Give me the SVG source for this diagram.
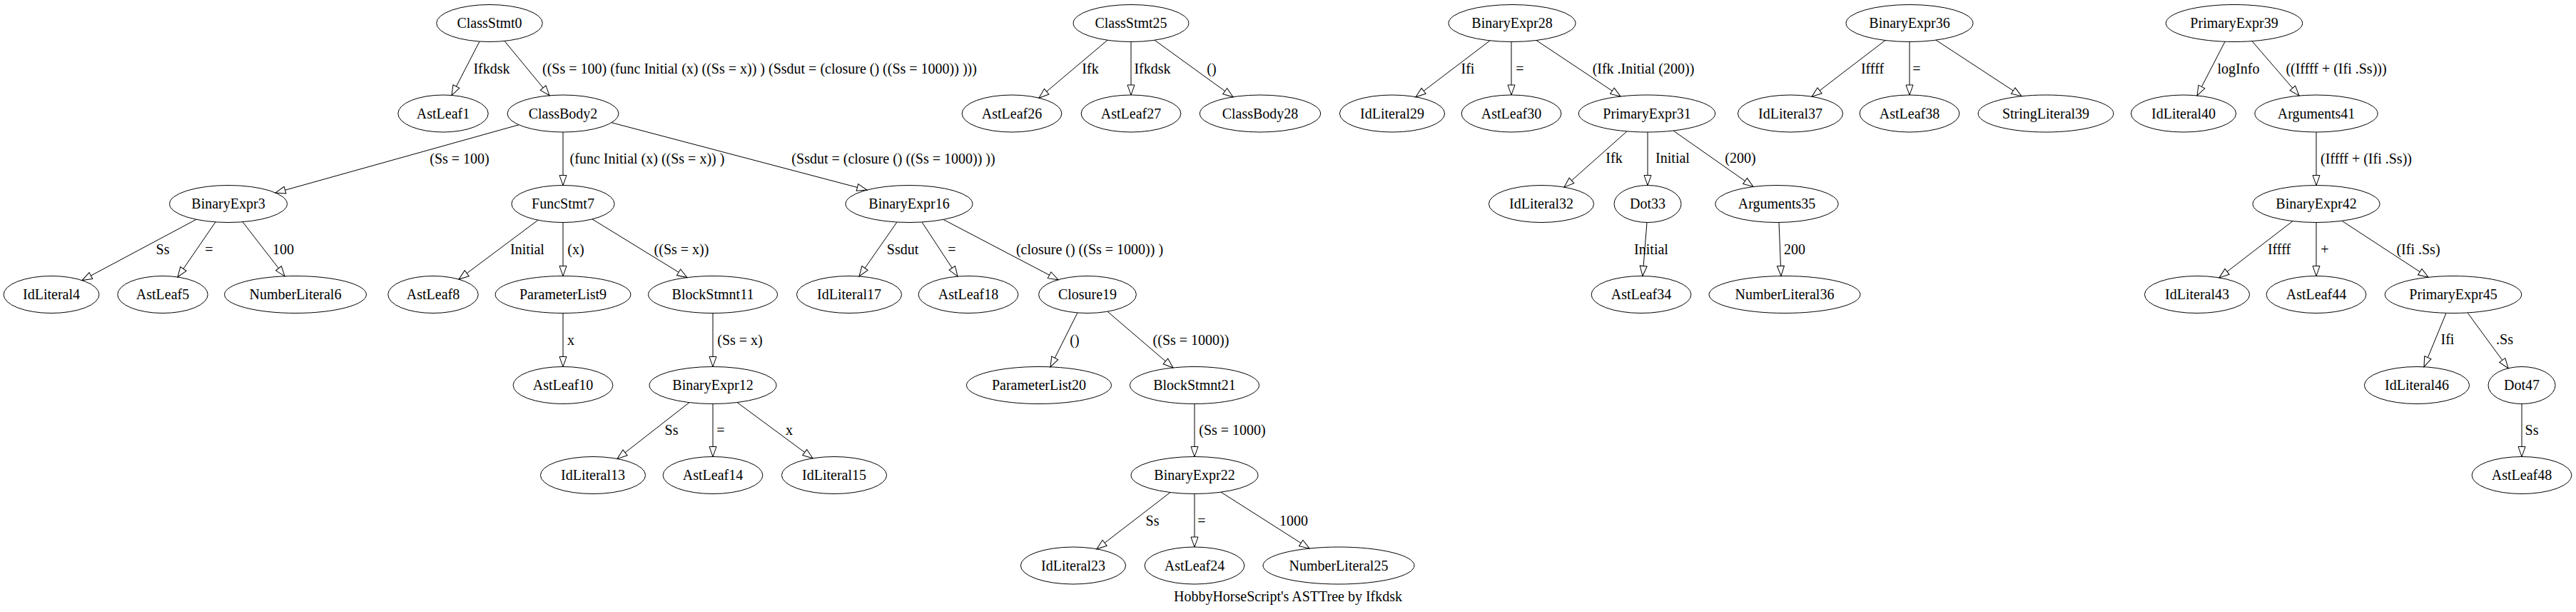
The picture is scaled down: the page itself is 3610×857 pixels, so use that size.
<svg xmlns="http://www.w3.org/2000/svg" width="3610" height="857" viewBox="0 0 3610 857">
<style>
.n ellipse{fill:none;stroke:#000;stroke-width:1}
text{font-family:"Liberation Serif","Times New Roman",serif;font-size:20px;text-anchor:middle;fill:#000}
.e line{stroke:#000;stroke-width:1;marker-end:url(#a)}
</style>
<defs>
<marker id="a" markerUnits="userSpaceOnUse" markerWidth="16" markerHeight="12" refX="14.5" refY="5.5" orient="auto" overflow="visible">
<path d="M0.5,0.5 L14.5,5.5 L0.5,10.5 Z" fill="#fff" stroke="#000" stroke-width="1"/>
</marker>
</defs>
<rect width="3610" height="857" fill="#fff"/>
<g id="edges" class="e">
<line x1="672" y1="58" x2="633" y2="133.5"/><text x="689" y="103">Ifkdsk</text>
<line x1="707" y1="57.4" x2="770" y2="133.8"/><text x="1064.5" y="103">((Ss = 100) (func Initial (x) ((Ss = x)) ) (Ssdut = (closure () ((Ss = 1000)) )))</text>
<line x1="727" y1="174.8" x2="386" y2="270"/><text x="644" y="229">(Ss = 100)</text>
<line x1="789" y1="185" x2="789" y2="259.5"/><text x="907" y="229">(func Initial (x) ((Ss = x)) )</text>
<line x1="857" y1="171.7" x2="1215" y2="266"/><text x="1252" y="229">(Ssdut = (closure () ((Ss = 1000)) ))</text>
<line x1="275" y1="307.3" x2="115" y2="392.6"/><text x="228" y="356">Ss</text>
<line x1="302" y1="310.9" x2="249" y2="388"/><text x="293" y="356">=</text>
<line x1="340" y1="310.7" x2="399" y2="386.8"/><text x="397" y="356">100</text>
<line x1="754" y1="308.2" x2="643" y2="391.1"/><text x="739" y="356">Initial</text>
<line x1="789" y1="311.5" x2="789" y2="386.5"/><text x="807" y="356">(x)</text>
<line x1="830" y1="306.9" x2="963" y2="388.6"/><text x="955" y="356">((Ss = x))</text>
<line x1="789" y1="438.5" x2="789" y2="513.5"/><text x="800" y="483">x</text>
<line x1="999" y1="438.5" x2="999" y2="513.5"/><text x="1037" y="483">(Ss = x)</text>
<line x1="966" y1="563.6" x2="865" y2="642.4"/><text x="941" y="609">Ss</text>
<line x1="999" y1="565.5" x2="999" y2="639.5"/><text x="1010" y="609">=</text>
<line x1="1033" y1="563.5" x2="1139" y2="641.8"/><text x="1106" y="609">x</text>
<line x1="1257" y1="311" x2="1204" y2="387"/><text x="1265" y="356">Ssdut</text>
<line x1="1292" y1="311" x2="1342" y2="387.1"/><text x="1334" y="356">=</text>
<line x1="1322" y1="307.4" x2="1483" y2="391.7"/><text x="1527" y="356">(closure () ((Ss = 1000)) )</text>
<line x1="1510" y1="437.9" x2="1472" y2="513.8"/><text x="1506" y="483">()</text>
<line x1="1552" y1="436.2" x2="1644" y2="515"/><text x="1669" y="483">((Ss = 1000))</text>
<line x1="1674" y1="565.5" x2="1674" y2="639.5"/><text x="1727" y="609">(Ss = 1000)</text>
<line x1="1640" y1="689.5" x2="1537" y2="768.8"/><text x="1615" y="736">Ss</text>
<line x1="1674" y1="691.5" x2="1674" y2="766"/><text x="1684" y="736">=</text>
<line x1="1711" y1="689.1" x2="1835" y2="768"/><text x="1813" y="736">1000</text>
<line x1="1552" y1="56.2" x2="1456" y2="137.2"/><text x="1528" y="103">Ifk</text>
<line x1="1585" y1="58.5" x2="1585" y2="133"/><text x="1615" y="103">Ifkdsk</text>
<line x1="1618" y1="56.2" x2="1728" y2="135.8"/><text x="1698" y="103">()</text>
<line x1="2088" y1="56.9" x2="1984" y2="135.8"/><text x="2057" y="103">Ifi</text>
<line x1="2118" y1="58.5" x2="2118" y2="133"/><text x="2130" y="103">=</text>
<line x1="2153" y1="56.5" x2="2271" y2="135"/><text x="2303" y="103">(Ifk .Initial (200))</text>
<line x1="2280" y1="183.9" x2="2192" y2="262.1"/><text x="2262" y="228">Ifk</text>
<line x1="2309" y1="185" x2="2309" y2="259.5"/><text x="2344" y="228">Initial</text>
<line x1="2345" y1="183" x2="2457" y2="261.5"/><text x="2439" y="228">(200)</text>
<line x1="2308" y1="311.5" x2="2302" y2="386.5"/><text x="2314" y="356">Initial</text>
<line x1="2493" y1="311.5" x2="2496" y2="386.5"/><text x="2515" y="356">200</text>
<line x1="2642" y1="56.5" x2="2539" y2="135.3"/><text x="2624" y="103">Iffff</text>
<line x1="2676" y1="58.5" x2="2676" y2="133"/><text x="2686" y="103">=</text>
<line x1="2713" y1="56.1" x2="2833" y2="134.7"/>
<line x1="3118" y1="58.3" x2="3079" y2="133.9"/><text x="3137" y="103">logInfo</text>
<line x1="3156" y1="57.6" x2="3222" y2="134"/><text x="3274" y="103">((Iffff + (Ifi .Ss)))</text>
<line x1="3246" y1="185" x2="3246" y2="259.5"/><text x="3316" y="229">(Iffff + (Ifi .Ss))</text>
<line x1="3213" y1="309.6" x2="3110" y2="388.9"/><text x="3194" y="356">Iffff</text>
<line x1="3246" y1="311.5" x2="3246" y2="386.5"/><text x="3258" y="356">+</text>
<line x1="3282" y1="309.3" x2="3403" y2="388.3"/><text x="3389" y="356">(Ifi .Ss)</text>
<line x1="3428" y1="438.4" x2="3397" y2="513.7"/><text x="3430" y="482">Ifi</text>
<line x1="3458" y1="437.9" x2="3515" y2="515.7"/><text x="3510" y="482">.Ss</text>
<line x1="3534" y1="565.5" x2="3534" y2="639.5"/><text x="3548" y="609">Ss</text>
</g>
<g class="n">
<g id="ClassStmt0"><ellipse cx="686" cy="32.5" rx="74.3" ry="26"/><text x="686" y="39">ClassStmt0</text></g>
<g id="AstLeaf1"><ellipse cx="621" cy="159" rx="63.2" ry="26"/><text x="621" y="165.5">AstLeaf1</text></g>
<g id="ClassBody2"><ellipse cx="789" cy="159" rx="78" ry="26"/><text x="789" y="165.5">ClassBody2</text></g>
<g id="BinaryExpr3"><ellipse cx="320" cy="285.5" rx="82.4" ry="26"/><text x="320" y="292">BinaryExpr3</text></g>
<g id="IdLiteral4"><ellipse cx="72" cy="412.5" rx="66.9" ry="26"/><text x="72" y="419">IdLiteral4</text></g>
<g id="AstLeaf5"><ellipse cx="228" cy="412.5" rx="63.2" ry="26"/><text x="228" y="419">AstLeaf5</text></g>
<g id="NumberLiteral6"><ellipse cx="414" cy="412.5" rx="99.4" ry="26"/><text x="414" y="419">NumberLiteral6</text></g>
<g id="FuncStmt7"><ellipse cx="789" cy="285.5" rx="72.1" ry="26"/><text x="789" y="292">FuncStmt7</text></g>
<g id="AstLeaf8"><ellipse cx="607" cy="412.5" rx="63.2" ry="26"/><text x="607" y="419">AstLeaf8</text></g>
<g id="ParameterList9"><ellipse cx="789" cy="412.5" rx="94.9" ry="26"/><text x="789" y="419">ParameterList9</text></g>
<g id="AstLeaf10"><ellipse cx="789" cy="539.5" rx="69.9" ry="26"/><text x="789" y="546">AstLeaf10</text></g>
<g id="BlockStmnt11"><ellipse cx="999" cy="412.5" rx="90.5" ry="26"/><text x="999" y="419">BlockStmnt11</text></g>
<g id="BinaryExpr12"><ellipse cx="999" cy="539.5" rx="89" ry="26"/><text x="999" y="546">BinaryExpr12</text></g>
<g id="IdLiteral13"><ellipse cx="831" cy="665.5" rx="73.6" ry="26"/><text x="831" y="672">IdLiteral13</text></g>
<g id="AstLeaf14"><ellipse cx="999" cy="665.5" rx="69.9" ry="26"/><text x="999" y="672">AstLeaf14</text></g>
<g id="IdLiteral15"><ellipse cx="1169" cy="665.5" rx="73.6" ry="26"/><text x="1169" y="672">IdLiteral15</text></g>
<g id="BinaryExpr16"><ellipse cx="1274" cy="285.5" rx="89" ry="26"/><text x="1274" y="292">BinaryExpr16</text></g>
<g id="IdLiteral17"><ellipse cx="1190" cy="412.5" rx="73.6" ry="26"/><text x="1190" y="419">IdLiteral17</text></g>
<g id="AstLeaf18"><ellipse cx="1357" cy="412.5" rx="69.9" ry="26"/><text x="1357" y="419">AstLeaf18</text></g>
<g id="Closure19"><ellipse cx="1524" cy="412.5" rx="68.4" ry="26"/><text x="1524" y="419">Closure19</text></g>
<g id="ParameterList20"><ellipse cx="1456" cy="539.5" rx="101.5" ry="26"/><text x="1456" y="546">ParameterList20</text></g>
<g id="BlockStmnt21"><ellipse cx="1674" cy="539.5" rx="90.5" ry="26"/><text x="1674" y="546">BlockStmnt21</text></g>
<g id="BinaryExpr22"><ellipse cx="1674" cy="665.5" rx="89" ry="26"/><text x="1674" y="672">BinaryExpr22</text></g>
<g id="IdLiteral23"><ellipse cx="1504" cy="792" rx="73.6" ry="26"/><text x="1504" y="798.5">IdLiteral23</text></g>
<g id="AstLeaf24"><ellipse cx="1674" cy="792" rx="69.9" ry="26"/><text x="1674" y="798.5">AstLeaf24</text></g>
<g id="NumberLiteral25"><ellipse cx="1876" cy="792" rx="106" ry="26"/><text x="1876" y="798.5">NumberLiteral25</text></g>
<g id="ClassStmt25"><ellipse cx="1585" cy="32.5" rx="80.9" ry="26"/><text x="1585" y="39">ClassStmt25</text></g>
<g id="AstLeaf26"><ellipse cx="1418" cy="159" rx="69.9" ry="26"/><text x="1418" y="165.5">AstLeaf26</text></g>
<g id="AstLeaf27"><ellipse cx="1585" cy="159" rx="69.9" ry="26"/><text x="1585" y="165.5">AstLeaf27</text></g>
<g id="ClassBody28"><ellipse cx="1766" cy="159" rx="84.6" ry="26"/><text x="1766" y="165.5">ClassBody28</text></g>
<g id="BinaryExpr28"><ellipse cx="2119" cy="32.5" rx="89" ry="26"/><text x="2119" y="39">BinaryExpr28</text></g>
<g id="IdLiteral29"><ellipse cx="1951" cy="159" rx="73.6" ry="26"/><text x="1951" y="165.5">IdLiteral29</text></g>
<g id="AstLeaf30"><ellipse cx="2118" cy="159" rx="69.9" ry="26"/><text x="2118" y="165.5">AstLeaf30</text></g>
<g id="PrimaryExpr31"><ellipse cx="2308" cy="159" rx="95.7" ry="26"/><text x="2308" y="165.5">PrimaryExpr31</text></g>
<g id="IdLiteral32"><ellipse cx="2160" cy="285.5" rx="73.6" ry="26"/><text x="2160" y="292">IdLiteral32</text></g>
<g id="Dot33"><ellipse cx="2309" cy="285.5" rx="47" ry="26"/><text x="2309" y="292">Dot33</text></g>
<g id="AstLeaf34"><ellipse cx="2300" cy="412.5" rx="69.9" ry="26"/><text x="2300" y="419">AstLeaf34</text></g>
<g id="Arguments35"><ellipse cx="2490" cy="285.5" rx="86.1" ry="26"/><text x="2490" y="292">Arguments35</text></g>
<g id="NumberLiteral36"><ellipse cx="2501" cy="412.5" rx="106" ry="26"/><text x="2501" y="419">NumberLiteral36</text></g>
<g id="BinaryExpr36"><ellipse cx="2676" cy="32.5" rx="89" ry="26"/><text x="2676" y="39">BinaryExpr36</text></g>
<g id="IdLiteral37"><ellipse cx="2509" cy="159" rx="73.6" ry="26"/><text x="2509" y="165.5">IdLiteral37</text></g>
<g id="AstLeaf38"><ellipse cx="2676" cy="159" rx="69.9" ry="26"/><text x="2676" y="165.5">AstLeaf38</text></g>
<g id="StringLiteral39"><ellipse cx="2867" cy="159" rx="94.9" ry="26"/><text x="2867" y="165.5">StringLiteral39</text></g>
<g id="PrimaryExpr39"><ellipse cx="3131" cy="32.5" rx="95.7" ry="26"/><text x="3131" y="39">PrimaryExpr39</text></g>
<g id="IdLiteral40"><ellipse cx="3060" cy="159" rx="73.6" ry="26"/><text x="3060" y="165.5">IdLiteral40</text></g>
<g id="Arguments41"><ellipse cx="3246" cy="159" rx="86.1" ry="26"/><text x="3246" y="165.5">Arguments41</text></g>
<g id="BinaryExpr42"><ellipse cx="3246" cy="285.5" rx="89" ry="26"/><text x="3246" y="292">BinaryExpr42</text></g>
<g id="IdLiteral43"><ellipse cx="3079" cy="412.5" rx="73.6" ry="26"/><text x="3079" y="419">IdLiteral43</text></g>
<g id="AstLeaf44"><ellipse cx="3246" cy="412.5" rx="69.9" ry="26"/><text x="3246" y="419">AstLeaf44</text></g>
<g id="PrimaryExpr45"><ellipse cx="3438" cy="412.5" rx="95.7" ry="26"/><text x="3438" y="419">PrimaryExpr45</text></g>
<g id="IdLiteral46"><ellipse cx="3387" cy="539.5" rx="73.6" ry="26"/><text x="3387" y="546">IdLiteral46</text></g>
<g id="Dot47"><ellipse cx="3534" cy="539.5" rx="47" ry="26"/><text x="3534" y="546">Dot47</text></g>
<g id="AstLeaf48"><ellipse cx="3534" cy="665.5" rx="69.9" ry="26"/><text x="3534" y="672">AstLeaf48</text></g>
</g>
<text id="title" x="1805" y="842">HobbyHorseScript's ASTTree by Ifkdsk</text>
</svg>
